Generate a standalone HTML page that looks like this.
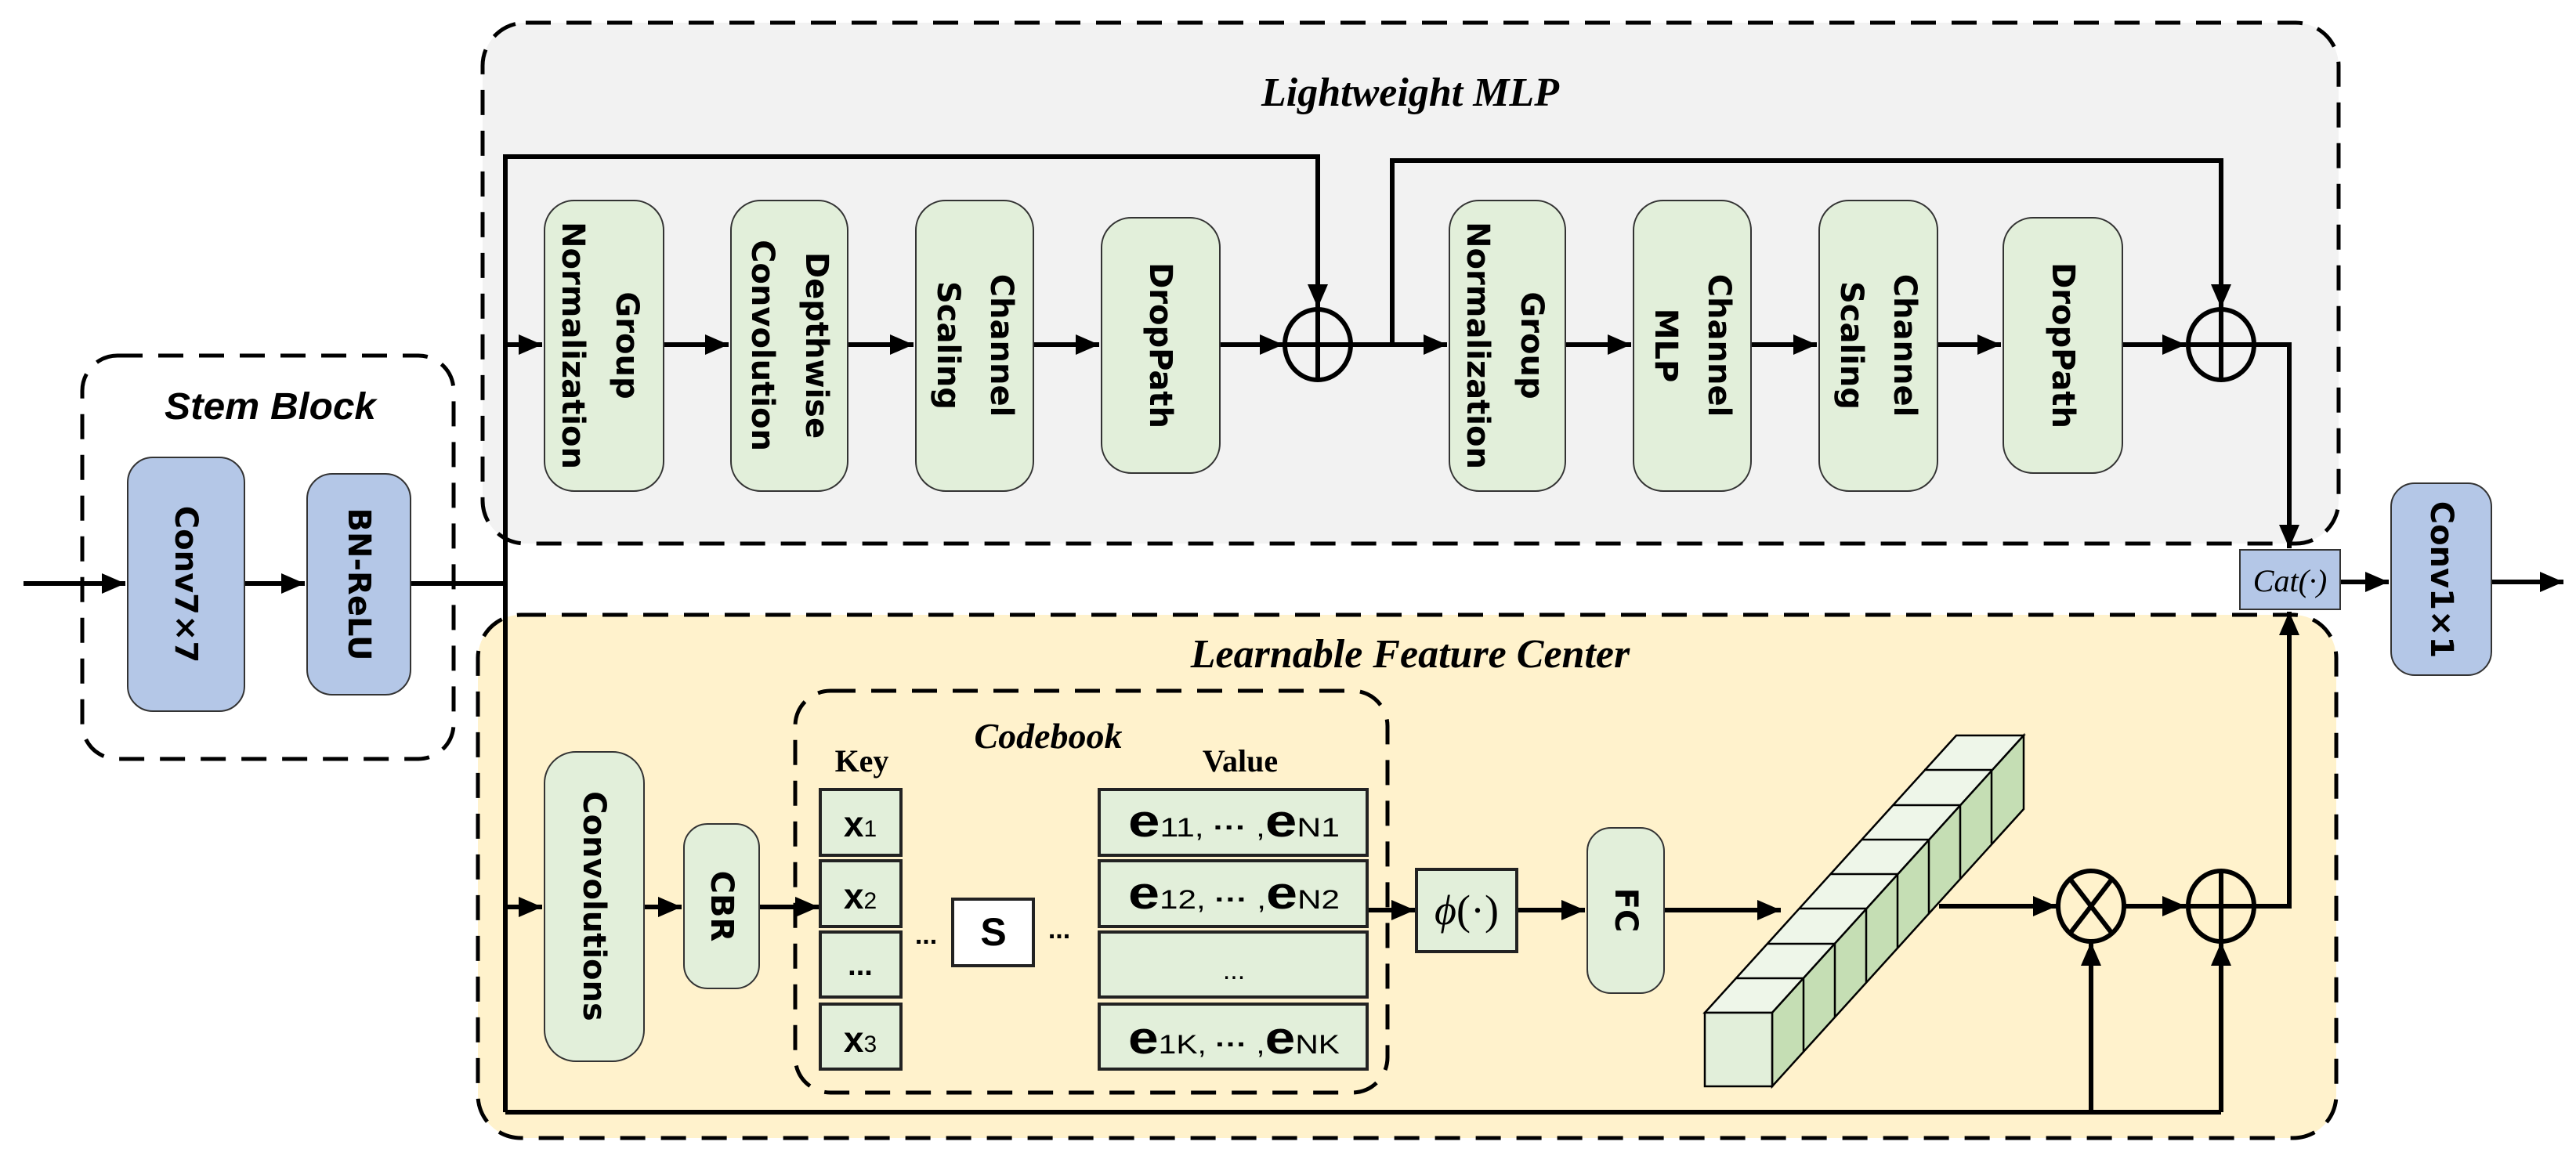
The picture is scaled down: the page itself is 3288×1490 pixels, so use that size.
<!DOCTYPE html>
<html><head><meta charset="utf-8"><style>
html,body{margin:0;padding:0;background:#fff;}
svg{display:block;}
.bx{font-family:"DejaVu Sans","Liberation Sans",sans-serif;font-weight:bold;font-size:40px;fill:#000;}
.ttl{font-family:"Liberation Serif",serif;font-style:italic;font-weight:bold;font-size:52px;}
.ser{font-family:"Liberation Serif",serif;font-weight:bold;font-size:40px;}
.nar{font-family:"Liberation Sans",sans-serif;font-weight:bold;}
</style></head><body>
<svg width="3288" height="1490" viewBox="0 0 3288 1490" xmlns="http://www.w3.org/2000/svg">
<defs>
<marker id="ar" markerWidth="30" markerHeight="26" refX="30" refY="13" orient="auto" markerUnits="userSpaceOnUse">
<path d="M0,0 L30,13 L0,26 Z" fill="#000"/></marker>
</defs>
<rect x="616" y="29" width="2369" height="665" rx="55" fill="#f2f2f2" stroke="#000" stroke-width="5" stroke-dasharray="32,20"/>
<rect x="610" y="785" width="2372" height="668" rx="55" fill="#fff2cc" stroke="#000" stroke-width="5" stroke-dasharray="32,20"/>
<rect x="105" y="454" width="474" height="515" rx="45" fill="#fff" stroke="#000" stroke-width="5" stroke-dasharray="32,20"/>
<rect x="1015" y="882" width="756" height="513" rx="45" fill="none" stroke="#000" stroke-width="5" stroke-dasharray="32,20"/>

<text class="ttl" x="1800" y="135" text-anchor="middle">Lightweight MLP</text>
<text class="ttl" x="1800" y="852" text-anchor="middle">Learnable Feature Center</text>
<text x="345" y="535" text-anchor="middle" textLength="270" lengthAdjust="spacingAndGlyphs" style="font-family:'Liberation Sans',sans-serif;font-style:italic;font-weight:bold;font-size:48px">Stem Block</text>
<text class="ttl" x="1338" y="955" text-anchor="middle" style="font-size:46px">Codebook</text>
<text class="ser" x="1100" y="985" text-anchor="middle">Key</text>
<text class="ser" x="1583" y="985" text-anchor="middle">Value</text>

<g stroke="#000" stroke-width="6" fill="none">
<line x1="30" y1="745" x2="160" y2="745" marker-end="url(#ar)"/>
<line x1="312" y1="745" x2="389" y2="745" marker-end="url(#ar)"/>
<line x1="524" y1="745" x2="645" y2="745"/>
<polyline points="645,1420 645,200 1682,200 1682,393" marker-end="url(#ar)"/>
<line x1="645" y1="440" x2="692" y2="440" marker-end="url(#ar)"/>
<line x1="847" y1="440" x2="930" y2="440" marker-end="url(#ar)"/>
<line x1="1082" y1="440" x2="1166" y2="440" marker-end="url(#ar)"/>
<line x1="1319" y1="440" x2="1403" y2="440" marker-end="url(#ar)"/>
<line x1="1557" y1="440" x2="1638" y2="440" marker-end="url(#ar)"/>
<line x1="1726" y1="440" x2="1847" y2="440" marker-end="url(#ar)"/>
<polyline points="1777,440 1777,205 2835,205 2835,393" marker-end="url(#ar)"/>
<line x1="1998" y1="440" x2="2082" y2="440" marker-end="url(#ar)"/>
<line x1="2235" y1="440" x2="2319" y2="440" marker-end="url(#ar)"/>
<line x1="2473" y1="440" x2="2554" y2="440" marker-end="url(#ar)"/>
<line x1="2709" y1="440" x2="2790" y2="440" marker-end="url(#ar)"/>
<polyline points="2835,440 2922,440 2922,700" marker-end="url(#ar)"/>
<line x1="2987" y1="743" x2="3049" y2="743" marker-end="url(#ar)"/>
<line x1="3180" y1="743" x2="3272" y2="743" marker-end="url(#ar)"/>
<line x1="645" y1="1420" x2="2835" y2="1420"/>
<line x1="645" y1="1158" x2="692" y2="1158" marker-end="url(#ar)"/>
<line x1="822" y1="1158" x2="870" y2="1158" marker-end="url(#ar)"/>
<line x1="969" y1="1158" x2="1045" y2="1158" marker-end="url(#ar)"/>
<line x1="1745" y1="1162" x2="1806" y2="1162" marker-end="url(#ar)"/>
<line x1="1936" y1="1162" x2="2023" y2="1162" marker-end="url(#ar)"/>
<line x1="2124" y1="1162" x2="2273" y2="1162" marker-end="url(#ar)"/>
<line x1="2475" y1="1157" x2="2625" y2="1157" marker-end="url(#ar)"/>
<line x1="2711" y1="1157" x2="2790" y2="1157" marker-end="url(#ar)"/>
<line x1="2669" y1="1420" x2="2669" y2="1203" marker-end="url(#ar)"/>
<line x1="2835" y1="1420" x2="2835" y2="1203" marker-end="url(#ar)"/>
<polyline points="2835,1157 2922,1157 2922,781" marker-end="url(#ar)"/>
</g>

<g stroke="#000" stroke-width="6" fill="none">
<ellipse cx="1682" cy="440" rx="42" ry="45"/><line x1="1640" y1="440" x2="1724" y2="440"/><line x1="1682" y1="395" x2="1682" y2="485"/>
<ellipse cx="2835" cy="440" rx="42" ry="45"/><line x1="2793" y1="440" x2="2877" y2="440"/><line x1="2835" y1="395" x2="2835" y2="485"/>
<ellipse cx="2835" cy="1157" rx="42" ry="45"/><line x1="2793" y1="1157" x2="2877" y2="1157"/><line x1="2835" y1="1112" x2="2835" y2="1202"/>
<ellipse cx="2669" cy="1157" rx="42" ry="45"/><line x1="2642" y1="1122" x2="2696" y2="1192"/><line x1="2696" y1="1122" x2="2642" y2="1192"/>
</g>

<g fill="#b4c7e7" stroke="#333" stroke-width="2">
<rect x="163" y="584" width="149" height="324" rx="32"/>
<rect x="392" y="605" width="132" height="282" rx="32"/>
<rect x="3052" y="617" width="128" height="245" rx="30"/>
<rect x="2859" y="702" width="128" height="76"/>
</g>
<text class="bx" transform="translate(237,746) rotate(90)" text-anchor="middle" dominant-baseline="central">Conv7×7</text>
<text class="bx" transform="translate(458,746) rotate(90)" text-anchor="middle" dominant-baseline="central">BN-ReLU</text>
<text class="bx" transform="translate(3116,740) rotate(90)" text-anchor="middle" dominant-baseline="central">Conv1×1</text>
<text x="2923" y="755" text-anchor="middle" style="font-family:'Liberation Serif',serif;font-style:italic;font-size:40px">Cat(·)</text>

<g fill="#e2efda" stroke="#333" stroke-width="2">
<rect x="695" y="256" width="152" height="371" rx="38"/>
<rect x="933" y="256" width="149" height="371" rx="38"/>
<rect x="1169" y="256" width="150" height="371" rx="38"/>
<rect x="1406" y="278" width="151" height="326" rx="38"/>
<rect x="1850" y="256" width="148" height="371" rx="38"/>
<rect x="2085" y="256" width="150" height="371" rx="38"/>
<rect x="2322" y="256" width="151" height="371" rx="38"/>
<rect x="2557" y="278" width="152" height="326" rx="38"/>
<rect x="695" y="960" width="127" height="395" rx="40"/>
<rect x="873" y="1052" width="96" height="210" rx="30"/>
<rect x="2026" y="1057" width="98" height="211" rx="30"/>
</g>
<g class="bx" text-anchor="middle" dominant-baseline="central">
<text transform="translate(800,441) rotate(90)">Group</text>
<text transform="translate(731,441) rotate(90)">Normalization</text>
<text transform="translate(1042,441) rotate(90)">Depthwise</text>
<text transform="translate(973,441) rotate(90)">Convolution</text>
<text transform="translate(1278,441) rotate(90)">Channel</text>
<text transform="translate(1210,441) rotate(90)">Scaling</text>
<text transform="translate(1481,441) rotate(90)">DropPath</text>
<text transform="translate(1955,441) rotate(90)">Group</text>
<text transform="translate(1886,441) rotate(90)">Normalization</text>
<text transform="translate(2194,441) rotate(90)">Channel</text>
<text transform="translate(2126,441) rotate(90)">MLP</text>
<text transform="translate(2431,441) rotate(90)">Channel</text>
<text transform="translate(2363,441) rotate(90)">Scaling</text>
<text transform="translate(2633,441) rotate(90)">DropPath</text>
<text transform="translate(758,1157) rotate(90)">Convolutions</text>
<text transform="translate(921,1157) rotate(90)">CBR</text>
<text transform="translate(2075,1162) rotate(90)">FC</text>
</g>

<g fill="#e2efda" stroke="#222" stroke-width="4">
<rect x="1047" y="1008" width="103" height="84"/>
<rect x="1047" y="1099" width="103" height="84"/>
<rect x="1047" y="1190" width="103" height="83"/>
<rect x="1047" y="1282" width="103" height="83"/>
<rect x="1403" y="1008" width="342" height="84"/>
<rect x="1403" y="1099" width="342" height="84"/>
<rect x="1403" y="1190" width="342" height="83"/>
<rect x="1403" y="1282" width="342" height="83"/>
<rect x="1216" y="1148" width="103" height="85" fill="#fff"/>
<rect x="1808" y="1110" width="128" height="105"/>
</g>
<g class="nar" text-anchor="middle">
<text x="1098" y="1068" font-size="46">x<tspan font-size="30" font-weight="normal">1</tspan></text>
<text x="1098" y="1160" font-size="46">x<tspan font-size="30" font-weight="normal">2</tspan></text>
<text x="1098" y="1245" font-size="38">...</text>
<text x="1098" y="1343" font-size="46">x<tspan font-size="30" font-weight="normal">3</tspan></text>
<text x="1268" y="1207" font-size="50">S</text>
<text x="1182" y="1205" font-size="34">...</text>
<text x="1352" y="1198" font-size="34">...</text>
<text x="1575" y="1068" font-size="58" textLength="270" lengthAdjust="spacingAndGlyphs">e<tspan font-size="34" font-weight="normal">11, </tspan><tspan font-size="34">···</tspan><tspan font-size="34" font-weight="normal"> ,</tspan>e<tspan font-size="34" font-weight="normal">N1</tspan></text>
<text x="1575" y="1160" font-size="58" textLength="270" lengthAdjust="spacingAndGlyphs">e<tspan font-size="34" font-weight="normal">12, </tspan><tspan font-size="34">···</tspan><tspan font-size="34" font-weight="normal"> ,</tspan>e<tspan font-size="34" font-weight="normal">N2</tspan></text>
<text x="1575" y="1250" font-size="34" font-weight="normal">...</text>
<text x="1575" y="1345" font-size="58" textLength="270" lengthAdjust="spacingAndGlyphs">e<tspan font-size="34" font-weight="normal">1K, </tspan><tspan font-size="34">···</tspan><tspan font-size="34" font-weight="normal"> ,</tspan>e<tspan font-size="34" font-weight="normal">NK</tspan></text>
</g>
<text x="1872" y="1180" text-anchor="middle" style="font-family:'Liberation Serif',serif;font-style:italic;font-size:54px">ϕ<tspan font-style="normal">(·)</tspan></text>

<g stroke="#000" stroke-width="2.5">
<polygon points="2176,1293 2262,1293 2583,939 2497,939" fill="#eef6e9"/>
<polygon points="2262,1293 2583,939 2583,1033 2262,1387" fill="#c5deb4"/>
<rect x="2176" y="1293" width="86" height="94" fill="#e2efda"/>
<line x1="2216" y1="1249" x2="2302" y2="1249"/><line x1="2302" y1="1249" x2="2302" y2="1343"/>
<line x1="2256" y1="1205" x2="2342" y2="1205"/><line x1="2342" y1="1205" x2="2342" y2="1299"/>
<line x1="2296" y1="1160" x2="2382" y2="1160"/><line x1="2382" y1="1160" x2="2382" y2="1254"/>
<line x1="2336" y1="1116" x2="2422" y2="1116"/><line x1="2422" y1="1116" x2="2422" y2="1210"/>
<line x1="2376" y1="1072" x2="2462" y2="1072"/><line x1="2462" y1="1072" x2="2462" y2="1166"/>
<line x1="2416" y1="1028" x2="2502" y2="1028"/><line x1="2502" y1="1028" x2="2502" y2="1122"/>
<line x1="2456" y1="983" x2="2542" y2="983"/><line x1="2542" y1="983" x2="2542" y2="1077"/>
</g>
</svg>
</body></html>
